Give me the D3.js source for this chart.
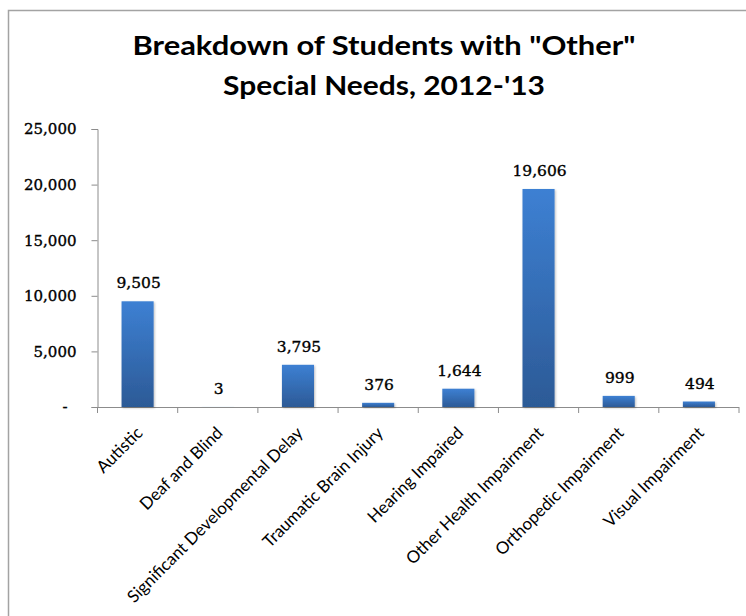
<!DOCTYPE html>
<html>
<head>
<meta charset="utf-8">
<script src="https://cdn.jsdelivr.net/npm/d3@7"></script>
<style>
  html, body { margin: 0; padding: 0; background: #fff; }
  svg { display: block; }
</style>
</head>
<body>
<svg id="chart" width="746" height="616"></svg>
<script>
// Students with "Other" special needs, 2012-'13
const categories = [
  "Autistic",
  "Deaf and Blind",
  "Significant Developmental Delay",
  "Traumatic Brain Injury",
  "Hearing Impaired",
  "Other Health Impairment",
  "Orthopedic Impairment",
  "Visual Impairment"
];
const students = [9505, 3, 3795, 376, 1644, 19606, 999, 494];
const yTicks = [0, 5000, 10000, 15000, 20000, 25000];
const titleLines = ["Breakdown of Students with \"Other\"", "Special Needs, 2012-'13"];

const svg = d3.select("#chart");
const W = 746, H = 616;

const plot = { left: 97.5, right: 739, top: 129, bottom: 407 };

// outer chart-area frame
svg.append("rect")
  .attr("x", 8.5).attr("y", 10.5)
  .attr("width", W + 20).attr("height", H + 20)
  .attr("fill", "#fff")
  .attr("stroke", "#a3a3a3")
  .attr("stroke-width", 1.5);

const defs = svg.append("defs");
const grad = defs.append("linearGradient")
  .attr("id", "barFill")
  .attr("x1", 0).attr("y1", 0).attr("x2", 0).attr("y2", 1);
grad.append("stop").attr("offset", "0%").attr("stop-color", "#3d80d3");
grad.append("stop").attr("offset", "100%").attr("stop-color", "#2c5a96");

const shadow = defs.append("filter").attr("id", "barShadow")
  .attr("x", "-30%").attr("y", "-30%").attr("width", "160%").attr("height", "160%");
shadow.append("feDropShadow")
  .attr("dx", 1).attr("dy", 1).attr("stdDeviation", 1.2)
  .attr("flood-color", "#000").attr("flood-opacity", 0.25);

// title
const title = svg.append("g");
const titleWidths = [503, 322];
titleLines.forEach((t, i) => {
  title.append("text")
    .attr("x", 384)
    .attr("y", 55 + i * 40)
    .attr("text-anchor", "middle")
    .attr("font-family", "Lato, 'Open Sans', sans-serif")
    .attr("font-weight", "bold")
    .attr("font-size", 27)
    .attr("fill", "#000")
    .attr("textLength", titleWidths[i])
    .attr("lengthAdjust", "spacingAndGlyphs")
    .text(t);
});

// scales
const x = d3.scaleBand()
  .domain(categories)
  .range([plot.left, plot.right])
  .paddingInner(0.6)
  .paddingOuter(0.3);

const y = d3.scaleLinear()
  .domain([0, 25000])
  .range([plot.bottom, plot.top]);

const axisColor = "#8c8c8c";
const numFont = "'DejaVu Serif', 'Liberation Serif', serif";

// y axis
const yAxis = svg.append("g")
  .attr("transform", `translate(${plot.left},0)`)
  .call(d3.axisLeft(y)
    .tickValues(yTicks)
    .tickSize(6)
    .tickPadding(15)
    .tickFormat(d => d === 0 ? "-" : d3.format(",")(d)));
yAxis.select(".domain").attr("stroke", axisColor);
yAxis.selectAll(".tick line").attr("stroke", axisColor);
yAxis.selectAll(".tick text")
  .attr("font-family", numFont)
  .attr("font-size", 15)
  .attr("fill", "#000")
  .attr("stroke", "#000")
  .attr("stroke-width", 0.35)
  .attr("dx", d => d === 0 ? -9 : 0);

// x axis line and category boundary ticks
const xAxis = svg.append("g");
xAxis.append("line")
  .attr("x1", plot.left).attr("x2", plot.right)
  .attr("y1", plot.bottom + 0.5).attr("y2", plot.bottom + 0.5)
  .attr("stroke", axisColor);
const boundaries = d3.range(categories.length + 1)
  .map(i => plot.left + i * x.step());
xAxis.selectAll("line.tick")
  .data(boundaries)
  .join("line")
  .attr("class", "tick")
  .attr("x1", d => d).attr("x2", d => d)
  .attr("y1", plot.bottom).attr("y2", plot.bottom + 6)
  .attr("stroke", axisColor);

// bars
svg.append("g")
  .selectAll("rect")
  .data(categories)
  .join("rect")
  .attr("x", d => x(d))
  .attr("y", (d, i) => y(students[i]))
  .attr("width", x.bandwidth())
  .attr("height", (d, i) => y(0) - y(students[i]))
  .attr("fill", "url(#barFill)")
  .attr("filter", "url(#barShadow)");

// value labels
svg.append("g")
  .selectAll("text")
  .data(categories)
  .join("text")
  .attr("x", d => x(d) + x.bandwidth() / 2 + 1)
  .attr("y", (d, i) => y(students[i]) - 13)
  .attr("text-anchor", "middle")
  .attr("font-family", numFont)
  .attr("font-size", 15.5)
  .attr("fill", "#000")
  .attr("stroke", "#000")
  .attr("stroke-width", 0.35)
  .text((d, i) => d3.format(",")(students[i]));

// rotated category labels
const catLabels = svg.append("g")
  .selectAll("text")
  .data(categories)
  .join("text")
  .attr("transform", d => `translate(${x(d) + x.bandwidth() / 2 + 6},434) rotate(-45)`)
  .attr("text-anchor", "end")
  .attr("font-family", "Lato, 'Open Sans', sans-serif")
  .attr("font-size", 17)
  .attr("fill", "#000")
  .text(d => d);

// fit the labels to a common width, keyed on the longest one
const longest = catLabels.filter(d => d === "Significant Developmental Delay").node();
const k = 240 / longest.getComputedTextLength();
catLabels.each(function () {
  const len = this.getComputedTextLength();
  d3.select(this).attr("textLength", len * k).attr("lengthAdjust", "spacingAndGlyphs");
});
</script>
</body>
</html>
